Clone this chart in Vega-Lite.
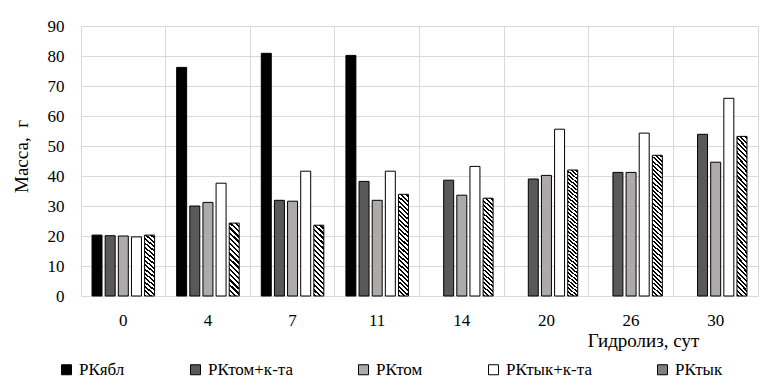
{
  "$schema": "https://vega.github.io/schema/vega-lite/v6.json",
  "width": 677,
  "height": 270,
  "autosize": {"type": "none"},
  "padding": {"left": 81, "top": 26, "right": 17, "bottom": 94},
  "background": "white",
  "config": {
    "font": "Times New Roman, Liberation Serif, serif",
    "view": {"stroke": "#d9d9d9", "strokeWidth": 1}
  },
  "data": {
    "values": [
      {"day": "0", "series": "РКябл", "mass": 20.3},
      {"day": "0", "series": "РКтом+к-та", "mass": 20.1},
      {"day": "0", "series": "РКтом", "mass": 20.0},
      {"day": "0", "series": "РКтык+к-та", "mass": 19.7},
      {"day": "0", "series": "РКтык", "mass": 20.3},
      {"day": "4", "series": "РКябл", "mass": 76.2},
      {"day": "4", "series": "РКтом+к-та", "mass": 30.0},
      {"day": "4", "series": "РКтом", "mass": 31.2},
      {"day": "4", "series": "РКтык+к-та", "mass": 37.6},
      {"day": "4", "series": "РКтык", "mass": 24.3},
      {"day": "7", "series": "РКябл", "mass": 80.9},
      {"day": "7", "series": "РКтом+к-та", "mass": 31.9},
      {"day": "7", "series": "РКтом", "mass": 31.6},
      {"day": "7", "series": "РКтык+к-та", "mass": 41.6},
      {"day": "7", "series": "РКтык", "mass": 23.6},
      {"day": "11", "series": "РКябл", "mass": 80.2},
      {"day": "11", "series": "РКтом+к-та", "mass": 38.2},
      {"day": "11", "series": "РКтом", "mass": 31.9},
      {"day": "11", "series": "РКтык+к-та", "mass": 41.6},
      {"day": "11", "series": "РКтык", "mass": 33.9},
      {"day": "14", "series": "РКтом+к-та", "mass": 38.6},
      {"day": "14", "series": "РКтом", "mass": 33.6},
      {"day": "14", "series": "РКтык+к-та", "mass": 43.2},
      {"day": "14", "series": "РКтык", "mass": 32.6},
      {"day": "20", "series": "РКтом+к-та", "mass": 39.0},
      {"day": "20", "series": "РКтом", "mass": 40.2},
      {"day": "20", "series": "РКтык+к-та", "mass": 55.6},
      {"day": "20", "series": "РКтык", "mass": 42.0},
      {"day": "26", "series": "РКтом+к-та", "mass": 41.2},
      {"day": "26", "series": "РКтом", "mass": 41.2},
      {"day": "26", "series": "РКтык+к-та", "mass": 54.3},
      {"day": "26", "series": "РКтык", "mass": 46.9},
      {"day": "30", "series": "РКтом+к-та", "mass": 53.9},
      {"day": "30", "series": "РКтом", "mass": 44.6},
      {"day": "30", "series": "РКтык+к-та", "mass": 65.9},
      {"day": "30", "series": "РКтык", "mass": 53.2}
    ]
  },
  "mark": {"type": "bar", "stroke": "black", "strokeWidth": 1},
  "encoding": {
    "x": {
      "field": "day", "type": "ordinal",
      "sort": ["0", "4", "7", "11", "14", "20", "26", "30"],
      "scale": {"paddingInner": 0, "paddingOuter": 0},
      "axis": {
        "labelAngle": 0, "labelFontSize": 17, "labelColor": "black",
        "labelBaseline": "alphabetic", "labelPadding": 29, "ticks": false,
        "grid": true, "bandPosition": 0, "gridColor": "#d9d9d9", "gridWidth": 1,
        "domainColor": "#d9d9d9", "domainWidth": 1,
        "title": "Гидролиз, сут", "titleFontSize": 19,
        "titleFontWeight": "normal", "titleColor": "black",
        "titleX": 562, "titleY": 50, "titleAlign": "center", "titleBaseline": "alphabetic"
      }
    },
    "xOffset": {
      "field": "series",
      "sort": ["РКябл", "РКтом+к-та", "РКтом", "РКтык+к-та", "РКтык"],
      "scale": {"paddingInner": 0.24, "paddingOuter": 0.84}
    },
    "y": {
      "field": "mass", "type": "quantitative",
      "scale": {"domain": [0, 90]},
      "axis": {
        "values": [0, 10, 20, 30, 40, 50, 60, 70, 80, 90],
        "labelFontSize": 17, "labelColor": "black",
        "labelPadding": 17, "ticks": false, "domain": false,
        "grid": true, "gridColor": "#d9d9d9", "gridWidth": 1,
        "title": "Масса, \u00a0г", "titleFontSize": 19,
        "titleFontWeight": "normal", "titleColor": "black",
        "titleX": -54, "titleY": 130, "titleAlign": "center", "titleBaseline": "alphabetic", "titleAngle": -90
      }
    },
    "fill": {
      "condition": [
        {
          "test": "datum.series === 'РКтык' && datum.mass < 28",
          "value": {"gradient": "linear", "x1": 0, "y1": 1, "x2": 0.15, "y2": -0.12, "stops": [
            {"offset": 0, "color": "black"}, {"offset": 0.028, "color": "black"}, {"offset": 0.028, "color": "white"}, {"offset": 0.0625, "color": "white"},
            {"offset": 0.0625, "color": "black"}, {"offset": 0.0905, "color": "black"}, {"offset": 0.0905, "color": "white"}, {"offset": 0.125, "color": "white"},
            {"offset": 0.125, "color": "black"}, {"offset": 0.153, "color": "black"}, {"offset": 0.153, "color": "white"}, {"offset": 0.1875, "color": "white"},
            {"offset": 0.1875, "color": "black"}, {"offset": 0.2155, "color": "black"}, {"offset": 0.2155, "color": "white"}, {"offset": 0.25, "color": "white"},
            {"offset": 0.25, "color": "black"}, {"offset": 0.278, "color": "black"}, {"offset": 0.278, "color": "white"}, {"offset": 0.3125, "color": "white"},
            {"offset": 0.3125, "color": "black"}, {"offset": 0.3405, "color": "black"}, {"offset": 0.3405, "color": "white"}, {"offset": 0.375, "color": "white"},
            {"offset": 0.375, "color": "black"}, {"offset": 0.403, "color": "black"}, {"offset": 0.403, "color": "white"}, {"offset": 0.4375, "color": "white"},
            {"offset": 0.4375, "color": "black"}, {"offset": 0.4655, "color": "black"}, {"offset": 0.4655, "color": "white"}, {"offset": 0.5, "color": "white"},
            {"offset": 0.5, "color": "black"}, {"offset": 0.528, "color": "black"}, {"offset": 0.528, "color": "white"}, {"offset": 0.5625, "color": "white"},
            {"offset": 0.5625, "color": "black"}, {"offset": 0.5905, "color": "black"}, {"offset": 0.5905, "color": "white"}, {"offset": 0.625, "color": "white"},
            {"offset": 0.625, "color": "black"}, {"offset": 0.653, "color": "black"}, {"offset": 0.653, "color": "white"}, {"offset": 0.6875, "color": "white"},
            {"offset": 0.6875, "color": "black"}, {"offset": 0.7155, "color": "black"}, {"offset": 0.7155, "color": "white"}, {"offset": 0.75, "color": "white"},
            {"offset": 0.75, "color": "black"}, {"offset": 0.778, "color": "black"}, {"offset": 0.778, "color": "white"}, {"offset": 0.8125, "color": "white"},
            {"offset": 0.8125, "color": "black"}, {"offset": 0.8405, "color": "black"}, {"offset": 0.8405, "color": "white"}, {"offset": 0.875, "color": "white"},
            {"offset": 0.875, "color": "black"}, {"offset": 0.903, "color": "black"}, {"offset": 0.903, "color": "white"}, {"offset": 0.9375, "color": "white"},
            {"offset": 0.9375, "color": "black"}, {"offset": 0.9655, "color": "black"}, {"offset": 0.9655, "color": "white"}, {"offset": 1, "color": "white"}
          ]}
        },
        {
          "test": "datum.series === 'РКтык' && datum.mass < 40",
          "value": {"gradient": "linear", "x1": 0, "y1": 1, "x2": 0.1, "y2": -0.09, "stops": [
            {"offset": 0.00, "color": "black"}, {"offset": 0.018, "color": "black"}, {"offset": 0.018, "color": "white"}, {"offset": 0.04, "color": "white"},
            {"offset": 0.04, "color": "black"}, {"offset": 0.058, "color": "black"}, {"offset": 0.058, "color": "white"}, {"offset": 0.08, "color": "white"},
            {"offset": 0.08, "color": "black"}, {"offset": 0.098, "color": "black"}, {"offset": 0.098, "color": "white"}, {"offset": 0.12, "color": "white"},
            {"offset": 0.12, "color": "black"}, {"offset": 0.138, "color": "black"}, {"offset": 0.138, "color": "white"}, {"offset": 0.16, "color": "white"},
            {"offset": 0.16, "color": "black"}, {"offset": 0.178, "color": "black"}, {"offset": 0.178, "color": "white"}, {"offset": 0.20, "color": "white"},
            {"offset": 0.20, "color": "black"}, {"offset": 0.218, "color": "black"}, {"offset": 0.218, "color": "white"}, {"offset": 0.24, "color": "white"},
            {"offset": 0.24, "color": "black"}, {"offset": 0.258, "color": "black"}, {"offset": 0.258, "color": "white"}, {"offset": 0.28, "color": "white"},
            {"offset": 0.28, "color": "black"}, {"offset": 0.298, "color": "black"}, {"offset": 0.298, "color": "white"}, {"offset": 0.32, "color": "white"},
            {"offset": 0.32, "color": "black"}, {"offset": 0.338, "color": "black"}, {"offset": 0.338, "color": "white"}, {"offset": 0.36, "color": "white"},
            {"offset": 0.36, "color": "black"}, {"offset": 0.378, "color": "black"}, {"offset": 0.378, "color": "white"}, {"offset": 0.40, "color": "white"},
            {"offset": 0.40, "color": "black"}, {"offset": 0.418, "color": "black"}, {"offset": 0.418, "color": "white"}, {"offset": 0.44, "color": "white"},
            {"offset": 0.44, "color": "black"}, {"offset": 0.458, "color": "black"}, {"offset": 0.458, "color": "white"}, {"offset": 0.48, "color": "white"},
            {"offset": 0.48, "color": "black"}, {"offset": 0.498, "color": "black"}, {"offset": 0.498, "color": "white"}, {"offset": 0.52, "color": "white"},
            {"offset": 0.52, "color": "black"}, {"offset": 0.538, "color": "black"}, {"offset": 0.538, "color": "white"}, {"offset": 0.56, "color": "white"},
            {"offset": 0.56, "color": "black"}, {"offset": 0.578, "color": "black"}, {"offset": 0.578, "color": "white"}, {"offset": 0.60, "color": "white"},
            {"offset": 0.60, "color": "black"}, {"offset": 0.618, "color": "black"}, {"offset": 0.618, "color": "white"}, {"offset": 0.64, "color": "white"},
            {"offset": 0.64, "color": "black"}, {"offset": 0.658, "color": "black"}, {"offset": 0.658, "color": "white"}, {"offset": 0.68, "color": "white"},
            {"offset": 0.68, "color": "black"}, {"offset": 0.698, "color": "black"}, {"offset": 0.698, "color": "white"}, {"offset": 0.72, "color": "white"},
            {"offset": 0.72, "color": "black"}, {"offset": 0.738, "color": "black"}, {"offset": 0.738, "color": "white"}, {"offset": 0.76, "color": "white"},
            {"offset": 0.76, "color": "black"}, {"offset": 0.778, "color": "black"}, {"offset": 0.778, "color": "white"}, {"offset": 0.80, "color": "white"},
            {"offset": 0.80, "color": "black"}, {"offset": 0.818, "color": "black"}, {"offset": 0.818, "color": "white"}, {"offset": 0.84, "color": "white"},
            {"offset": 0.84, "color": "black"}, {"offset": 0.858, "color": "black"}, {"offset": 0.858, "color": "white"}, {"offset": 0.88, "color": "white"},
            {"offset": 0.88, "color": "black"}, {"offset": 0.898, "color": "black"}, {"offset": 0.898, "color": "white"}, {"offset": 0.92, "color": "white"},
            {"offset": 0.92, "color": "black"}, {"offset": 0.938, "color": "black"}, {"offset": 0.938, "color": "white"}, {"offset": 0.96, "color": "white"},
            {"offset": 0.96, "color": "black"}, {"offset": 0.978, "color": "black"}, {"offset": 0.978, "color": "white"}, {"offset": 1.0, "color": "white"}
          ]}
        },
        {
          "test": "datum.series === 'РКтык'",
          "value": {"gradient": "linear", "x1": 0, "y1": 1, "x2": 0.07, "y2": -0.07, "stops": [
            {"offset": 0, "color": "black"}, {"offset": 0.0125, "color": "black"}, {"offset": 0.0125, "color": "white"}, {"offset": 0.0278, "color": "white"},
            {"offset": 0.0278, "color": "black"}, {"offset": 0.0403, "color": "black"}, {"offset": 0.0403, "color": "white"}, {"offset": 0.0556, "color": "white"},
            {"offset": 0.0556, "color": "black"}, {"offset": 0.0681, "color": "black"}, {"offset": 0.0681, "color": "white"}, {"offset": 0.0833, "color": "white"},
            {"offset": 0.0833, "color": "black"}, {"offset": 0.0958, "color": "black"}, {"offset": 0.0958, "color": "white"}, {"offset": 0.1111, "color": "white"},
            {"offset": 0.1111, "color": "black"}, {"offset": 0.1236, "color": "black"}, {"offset": 0.1236, "color": "white"}, {"offset": 0.1389, "color": "white"},
            {"offset": 0.1389, "color": "black"}, {"offset": 0.1514, "color": "black"}, {"offset": 0.1514, "color": "white"}, {"offset": 0.1667, "color": "white"},
            {"offset": 0.1667, "color": "black"}, {"offset": 0.1792, "color": "black"}, {"offset": 0.1792, "color": "white"}, {"offset": 0.1944, "color": "white"},
            {"offset": 0.1944, "color": "black"}, {"offset": 0.2069, "color": "black"}, {"offset": 0.2069, "color": "white"}, {"offset": 0.2222, "color": "white"},
            {"offset": 0.2222, "color": "black"}, {"offset": 0.2347, "color": "black"}, {"offset": 0.2347, "color": "white"}, {"offset": 0.25, "color": "white"},
            {"offset": 0.25, "color": "black"}, {"offset": 0.2625, "color": "black"}, {"offset": 0.2625, "color": "white"}, {"offset": 0.2778, "color": "white"},
            {"offset": 0.2778, "color": "black"}, {"offset": 0.2903, "color": "black"}, {"offset": 0.2903, "color": "white"}, {"offset": 0.3056, "color": "white"},
            {"offset": 0.3056, "color": "black"}, {"offset": 0.3181, "color": "black"}, {"offset": 0.3181, "color": "white"}, {"offset": 0.3333, "color": "white"},
            {"offset": 0.3333, "color": "black"}, {"offset": 0.3458, "color": "black"}, {"offset": 0.3458, "color": "white"}, {"offset": 0.3611, "color": "white"},
            {"offset": 0.3611, "color": "black"}, {"offset": 0.3736, "color": "black"}, {"offset": 0.3736, "color": "white"}, {"offset": 0.3889, "color": "white"},
            {"offset": 0.3889, "color": "black"}, {"offset": 0.4014, "color": "black"}, {"offset": 0.4014, "color": "white"}, {"offset": 0.4167, "color": "white"},
            {"offset": 0.4167, "color": "black"}, {"offset": 0.4292, "color": "black"}, {"offset": 0.4292, "color": "white"}, {"offset": 0.4444, "color": "white"},
            {"offset": 0.4444, "color": "black"}, {"offset": 0.4569, "color": "black"}, {"offset": 0.4569, "color": "white"}, {"offset": 0.4722, "color": "white"},
            {"offset": 0.4722, "color": "black"}, {"offset": 0.4847, "color": "black"}, {"offset": 0.4847, "color": "white"}, {"offset": 0.5, "color": "white"},
            {"offset": 0.5, "color": "black"}, {"offset": 0.5125, "color": "black"}, {"offset": 0.5125, "color": "white"}, {"offset": 0.5278, "color": "white"},
            {"offset": 0.5278, "color": "black"}, {"offset": 0.5403, "color": "black"}, {"offset": 0.5403, "color": "white"}, {"offset": 0.5556, "color": "white"},
            {"offset": 0.5556, "color": "black"}, {"offset": 0.5681, "color": "black"}, {"offset": 0.5681, "color": "white"}, {"offset": 0.5833, "color": "white"},
            {"offset": 0.5833, "color": "black"}, {"offset": 0.5958, "color": "black"}, {"offset": 0.5958, "color": "white"}, {"offset": 0.6111, "color": "white"},
            {"offset": 0.6111, "color": "black"}, {"offset": 0.6236, "color": "black"}, {"offset": 0.6236, "color": "white"}, {"offset": 0.6389, "color": "white"},
            {"offset": 0.6389, "color": "black"}, {"offset": 0.6514, "color": "black"}, {"offset": 0.6514, "color": "white"}, {"offset": 0.6667, "color": "white"},
            {"offset": 0.6667, "color": "black"}, {"offset": 0.6792, "color": "black"}, {"offset": 0.6792, "color": "white"}, {"offset": 0.6944, "color": "white"},
            {"offset": 0.6944, "color": "black"}, {"offset": 0.7069, "color": "black"}, {"offset": 0.7069, "color": "white"}, {"offset": 0.7222, "color": "white"},
            {"offset": 0.7222, "color": "black"}, {"offset": 0.7347, "color": "black"}, {"offset": 0.7347, "color": "white"}, {"offset": 0.75, "color": "white"},
            {"offset": 0.75, "color": "black"}, {"offset": 0.7625, "color": "black"}, {"offset": 0.7625, "color": "white"}, {"offset": 0.7778, "color": "white"},
            {"offset": 0.7778, "color": "black"}, {"offset": 0.7903, "color": "black"}, {"offset": 0.7903, "color": "white"}, {"offset": 0.8056, "color": "white"},
            {"offset": 0.8056, "color": "black"}, {"offset": 0.8181, "color": "black"}, {"offset": 0.8181, "color": "white"}, {"offset": 0.8333, "color": "white"},
            {"offset": 0.8333, "color": "black"}, {"offset": 0.8458, "color": "black"}, {"offset": 0.8458, "color": "white"}, {"offset": 0.8611, "color": "white"},
            {"offset": 0.8611, "color": "black"}, {"offset": 0.8736, "color": "black"}, {"offset": 0.8736, "color": "white"}, {"offset": 0.8889, "color": "white"},
            {"offset": 0.8889, "color": "black"}, {"offset": 0.9014, "color": "black"}, {"offset": 0.9014, "color": "white"}, {"offset": 0.9167, "color": "white"},
            {"offset": 0.9167, "color": "black"}, {"offset": 0.9292, "color": "black"}, {"offset": 0.9292, "color": "white"}, {"offset": 0.9444, "color": "white"},
            {"offset": 0.9444, "color": "black"}, {"offset": 0.9569, "color": "black"}, {"offset": 0.9569, "color": "white"}, {"offset": 0.9722, "color": "white"},
            {"offset": 0.9722, "color": "black"}, {"offset": 0.9847, "color": "black"}, {"offset": 0.9847, "color": "white"}, {"offset": 1, "color": "white"}
          ]}
        }
      ],
      "field": "series", "type": "nominal",
      "sort": ["РКябл", "РКтом+к-та", "РКтом", "РКтык+к-та", "РКтык"],
      "scale": {
        "domain": ["РКябл", "РКтом+к-та", "РКтом", "РКтык+к-та", "РКтык"],
        "range": ["#000000", "#595959", "#aeaaaa", "#ffffff", "#808080"]
      },
      "legend": {
        "orient": "none", "legendX": -23, "legendY": 335, "direction": "horizontal",
        "title": null, "padding": 0,
        "symbolType": "square", "symbolSize": 100, "symbolStrokeColor": "black", "symbolStrokeWidth": 1,
        "labelFontSize": 17, "labelColor": "black", "labelOffset": 4,
        "labelExpr": "datum.label === 'РКтом' ? datum.label + '\u00a0\u00a0\u00a0\u00a0\u00a0\u00a0\u00a0\u00a0' : datum.label",
        "columnPadding": 62,
        "encode": {
          "symbols": {
            "update": {
              "fill": [
                {"test": "datum.value === 'РКтык'", "value": {"gradient": "linear", "x1": 0, "y1": 1, "x2": 1, "y2": 0, "stops": [
                  {"offset": 0, "color": "black"}, {"offset": 0.15, "color": "black"}, {"offset": 0.15, "color": "white"}, {"offset": 0.38, "color": "white"},
                  {"offset": 0.38, "color": "black"}, {"offset": 0.62, "color": "black"}, {"offset": 0.62, "color": "white"}, {"offset": 0.85, "color": "white"},
                  {"offset": 0.85, "color": "black"}, {"offset": 1, "color": "black"}
                ]}},
                {"scale": "fill", "field": "value"}
              ],
              "stroke": {"value": "black"},
              "strokeWidth": {"value": 1}
            }
          }
        }
      }
    }
  }
}
